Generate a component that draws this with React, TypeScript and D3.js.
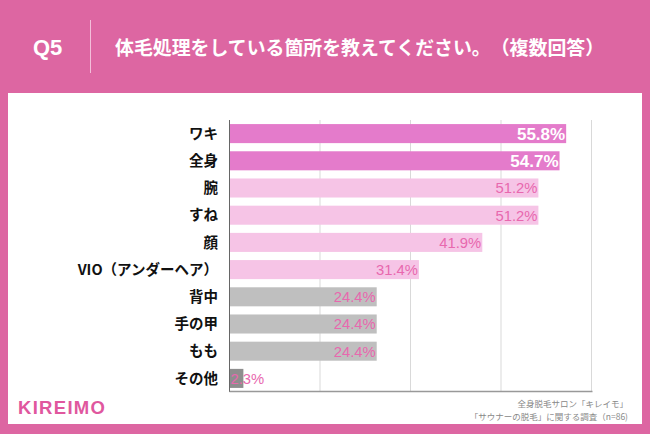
import React from "react";
import * as d3 from "d3";

const categories = ["ワキ", "全身", "腕", "すね", "顔", "VIO（アンダーヘア）", "背中", "手の甲", "もも", "その他"];
const values = [55.8, 54.7, 51.2, 51.2, 41.9, 31.4, 24.4, 24.4, 24.4, 2.3];
const tiers = ["top", "top", "mid", "mid", "mid", "mid", "low", "low", "low", "other"];
const gridTicks = [15, 30, 45, 60];
const title = "体毛処理をしている箇所を教えてください。（複数回答）";
const question = "Q5";
const sourceLines = ["全身脱毛サロン「キレイモ」", "「サウナーの脱毛」に関する調査（n=86)"];

const W = 650, H = 434;
const fill: Record<string, string> = { top: "#E47BCB", mid: "#F6C4E6", low: "#BFBFBF", other: "#8E8E8E" };
const font = "'Noto Sans CJK JP', 'Liberation Sans', sans-serif";
const latin = "'Liberation Sans', Arial, sans-serif";
const noTrim: any = { textSpacingTrim: "space-all" };

export default function App() {
  const x = d3.scaleLinear().domain([0, 60]).range([229.5, 591.5]);
  const y = d3.scaleBand<string>().domain(categories).range([120, 392]).paddingInner(0.3).paddingOuter(0.15);
  return (
    <svg width={W} height={H} style={{ position: "absolute", left: 0, top: 0 }}>
      <rect x={0} y={0} width={W} height={H} fill="#DD66A2" />
      <rect x={8} y={93} width={634} height={331} fill="#FFFFFF" />
      <text x={33} y={55} fill="#fff" fontSize={22} fontWeight="bold" fontFamily={latin}>{question}</text>
      <line x1={90.5} x2={90.5} y1={20} y2={73} stroke="#F3BEDA" strokeWidth={1} />
      <text x={115} y={55} fill="#fff" fontSize={18.9} fontWeight="bold" fontFamily={font} style={noTrim}>{title}</text>
      {gridTicks.map((t) => (
        <line key={t} x1={x(t)} x2={x(t)} y1={120} y2={392} stroke="#D9D9D9" strokeWidth={1} />
      ))}
      {categories.map((c, i) => {
        const v = values[i];
        const tier = tiers[i];
        const y0 = y(c)!;
        const bw = y.bandwidth();
        const isTop = tier === "top";
        return (
          <g key={c}>
            <rect x={x(0)} y={y0} width={x(v) - x(0)} height={bw} fill={fill[tier]} />
            <text x={218} y={y0 + bw / 2} dy="0.36em" textAnchor="end" fontSize={14.5} fontWeight="bold" fill="#111" fontFamily={font} style={noTrim}>{c}</text>
            <text
              x={tier === "other" ? x(0) + 1 : x(v) - 1}
              y={y0 + bw / 2}
              dy="0.37em"
              textAnchor={tier === "other" ? "start" : "end"}
              fontSize={isTop ? 17 : 14.8}
              fontWeight={isTop ? "bold" : "normal"}
              fill={isTop ? "#FFFFFF" : "#E868AE"}
              fontFamily={latin}
            >{v.toFixed(1)}%</text>
          </g>
        );
      })}
      <line x1={x(0)} x2={x(0)} y1={120} y2={392} stroke="#666" strokeWidth={1} />
      <line x1={x(0)} x2={x(60) + 1} y1={391.5} y2={391.5} stroke="#999" strokeWidth={1.5} />
      <text x={18} y={414} fill="#E0579E" fontSize={18.5} fontWeight="bold" letterSpacing={1.3} fontFamily={latin}>KIREIMO</text>
      {sourceLines.map((s, i) => (
        <text key={i} x={628} y={407 + i * 12.5} textAnchor="end" fontSize={8.5} fill="#888" fontFamily={font} style={noTrim}>{s}</text>
      ))}
    </svg>
  );
}
